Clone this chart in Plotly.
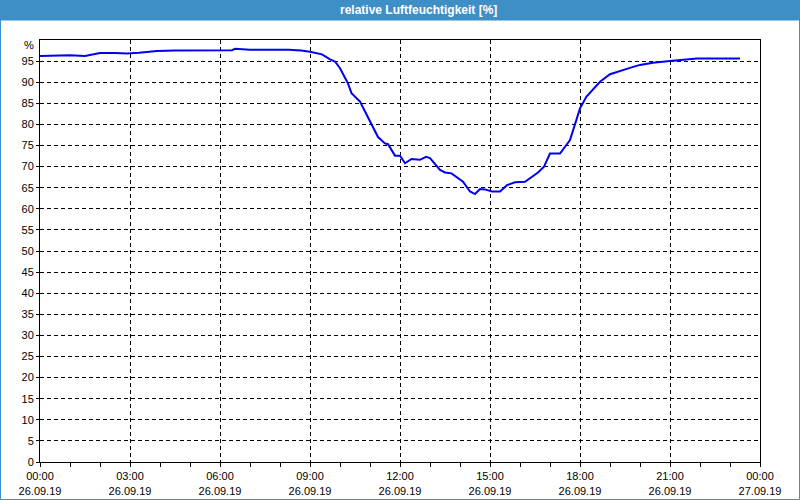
import plotly.graph_objects as go

# ---- data ----
times = ["00:00", "00:30", "01:00", "01:30", "02:00", "02:30", "02:54", "03:18", "03:54", "04:30",
         "05:00", "05:30", "06:00", "06:24", "06:30", "07:00", "08:00", "08:18", "08:42", "09:00",
         "09:24", "09:40", "09:50", "10:00", "10:16", "10:23", "10:40", "10:50", "11:04", "11:16",
         "11:30", "11:36", "11:50", "12:00", "12:10", "12:23", "12:40", "12:52", "13:00", "13:20",
         "13:30", "13:43", "14:06", "14:20", "14:30", "14:40", "14:50", "15:04", "15:20", "15:34",
         "15:50", "16:10", "16:36", "16:48", "17:00", "17:20", "17:40", "17:50", "18:00", "18:13",
         "18:26", "18:40", "19:00", "19:20", "19:40", "20:00", "20:26", "21:00", "21:26", "21:54",
         "23:20"]
humidity = [96.2, 96.3, 96.4, 96.2, 96.9, 96.9, 96.8, 97.0, 97.4, 97.5,
            97.5, 97.6, 97.6, 97.6, 97.9, 97.7, 97.7, 97.7, 97.5, 97.2,
            96.6, 95.4, 94.9, 93.3, 89.7, 87.4, 85.4, 83.0, 79.5, 77.0,
            75.5, 75.3, 72.6, 72.6, 70.8, 71.8, 71.6, 72.3, 72.0, 69.2,
            68.6, 68.4, 66.4, 64.1, 63.5, 64.7, 64.6, 64.1, 64.1, 65.6,
            66.3, 66.4, 68.6, 70.0, 73.1, 73.1, 76.3, 80.2, 83.8, 86.6,
            88.2, 90.1, 91.9, 92.7, 93.4, 94.1, 94.6, 95.0, 95.3, 95.6,
            95.6]
x_tick_times = ["2019-09-26 00:00", "2019-09-26 03:00", "2019-09-26 06:00", "2019-09-26 09:00",
                "2019-09-26 12:00", "2019-09-26 15:00", "2019-09-26 18:00", "2019-09-26 21:00",
                "2019-09-27 00:00"]
x_tick_labels = ["00:00<br>26.09.19", "03:00<br>26.09.19", "06:00<br>26.09.19", "09:00<br>26.09.19",
                 "12:00<br>26.09.19", "15:00<br>26.09.19", "18:00<br>26.09.19", "21:00<br>26.09.19",
                 "00:00<br>27.09.19"]
y_ticks = list(range(0, 100, 5))
title_text = "relative Luftfeuchtigkeit [%]"

x_vals = ["2019-09-26 " + t for t in times]

BLUE_BAR = "#3d8fc6"
FONT = "Liberation Sans"

fig = go.Figure()
fig.add_trace(go.Scatter(x=x_vals, y=humidity, mode="lines",
                         line=dict(color="#0000f0", width=2), hoverinfo="skip"))

fig.update_layout(
    width=800, height=500, autosize=False,
    margin=dict(l=40, r=40, t=40, b=38, pad=0),
    paper_bgcolor="white", plot_bgcolor="white",
    showlegend=False,
    font=dict(family=FONT, size=11, color="black"),
    xaxis=dict(
        type="date", automargin=False,
        range=["2019-09-26 00:00", "2019-09-27 00:00"],
        tickvals=x_tick_times, ticktext=x_tick_labels,
        ticks="outside", ticklen=4, tickcolor="black", tickwidth=1,
        showline=True, linecolor="black", linewidth=1, mirror=True,
        showgrid=True, gridcolor="black", gridwidth=1, griddash="4px,3px",
        minor=dict(dtick=3600000, ticks="outside", ticklen=4, tickcolor="black", showgrid=False),
        zeroline=False, fixedrange=True,
    ),
    yaxis=dict(
        range=[0, 100], automargin=False,
        tickvals=y_ticks, ticktext=[str(v) for v in y_ticks],
        ticks="outside", ticklen=3, tickcolor="black", tickwidth=1,
        showline=True, linecolor="black", linewidth=1, mirror=True,
        showgrid=True, gridcolor="black", gridwidth=1, griddash="4px,3px",
        zeroline=False, fixedrange=True,
    ),
)

def px_x(p):
    return (p - 40) / 720.0

def px_y(p):
    return (462 - p) / 422.0

fig.add_shape(type="rect", xref="paper", yref="paper",
              x0=px_x(0), x1=px_x(800), y0=px_y(20), y1=px_y(0),
              fillcolor=BLUE_BAR, line=dict(width=0), layer="above")
fig.add_shape(type="rect", xref="paper", yref="paper",
              x0=px_x(0.5), x1=px_x(799.5), y0=px_y(499.5), y1=px_y(20),
              fillcolor="rgba(0,0,0,0)", line=dict(color=BLUE_BAR, width=1), layer="above")

fig.add_annotation(text="<b>" + title_text + "</b>", xref="paper", yref="paper",
                   x=px_x(418), y=px_y(10), xanchor="center", yanchor="middle",
                   showarrow=False, font=dict(family=FONT, size=12, color="white"))
fig.add_annotation(text="%", xref="paper", yref="y", x=0, y=100,
                   xanchor="right", yanchor="middle", xshift=-4, yshift=-5,
                   showarrow=False, font=dict(family=FONT, size=11, color="black"))

fig.write_html("out.html")
